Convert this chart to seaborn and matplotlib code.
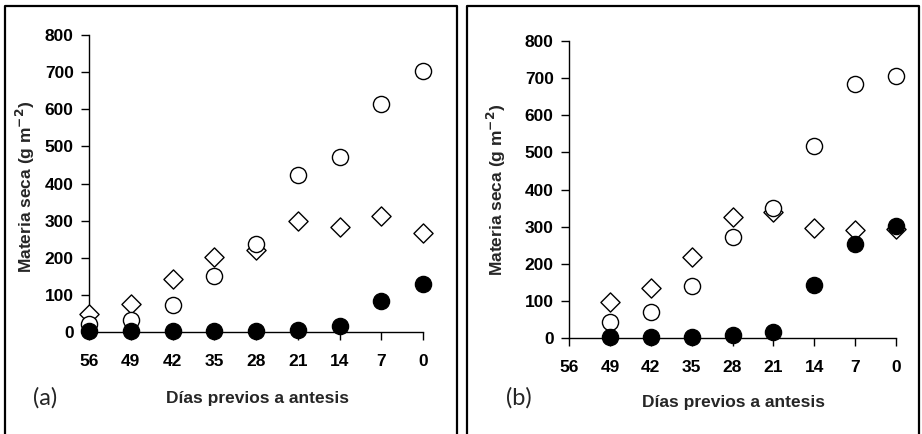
import matplotlib
matplotlib.use("Agg")
import matplotlib.pyplot as plt
import numpy as np
import pandas as pd
import seaborn as sns

sns.set_theme(style="ticks")
plt.rcParams['font.family'] = ['Liberation Sans', 'DejaVu Sans']

# Days before anthesis
dias = [56, 49, 42, 35, 28, 21, 14, 7, 0]
tick_labels = ["56", "49", "42", "35", "28", "21", "14", "7", "0"]

# Panel (a): dry matter, g m-2
a_circulo = [22, 33, 72, 152, 238, 423, 471, 615, 704]
a_rombo = [49, 75, 143, 203, 220, 300, 283, 313, 266]
a_lleno = [2, 2, 2, 2, 2, 6, 16, 84, 130]

# Panel (b): dry matter, g m-2 (no sampling at day 56)
dias_b = [49, 42, 35, 28, 21, 14, 7, 0]
b_circulo = [44, 70, 139, 271, 349, 517, 684, 705]
b_rombo = [96, 134, 219, 327, 339, 295, 291, 293]
b_lleno = [2, 2, 2, 8, 17, 142, 254, 301]

W, H = 922, 434
FS = 12.5
fig = plt.figure(figsize=(W / 100, H / 100), dpi=100)


def px_axes(left, right, y0, y800):
    return fig.add_axes([left / W, (H - y0) / H, (right - left) / W, (y0 - y800) / H])


def panel(ax, x, circ, rombo, lleno):
    df = pd.DataFrame({"dia": x, "circ": circ, "rombo": rombo, "lleno": lleno})
    kw = dict(ax=ax, linewidth=1.0, clip_on=False, zorder=3, legend=False)
    sns.scatterplot(data=df, x="dia", y="rombo", marker="D", s=95,
                    color="white", edgecolor="black", **kw)
    sns.scatterplot(data=df, x="dia", y="circ", marker="o", s=135,
                    color="white", edgecolor="black", **kw)
    sns.scatterplot(data=df, x="dia", y="lleno", marker="o", s=135,
                    color="black", edgecolor="black", **kw)
    ax.set_xlim(56, 0)
    ax.set_ylim(0, 800)
    ax.set_xticks(dias)
    ax.set_xticklabels(tick_labels)
    ax.set_yticks(range(0, 801, 100))
    for side in ("top", "right"):
        ax.spines[side].set_visible(False)
    for side in ("left", "bottom"):
        ax.spines[side].set_linewidth(1.0)
        ax.spines[side].set_color("black")
    ax.tick_params(axis="both", direction="out", length=6, width=1.0,
                   colors="black", labelsize=FS)
    ax.tick_params(axis="x", pad=10)
    ax.tick_params(axis="y", pad=5)
    for lab in ax.get_xticklabels() + ax.get_yticklabels():
        lab.set_fontweight("bold")
    ax.set_xlabel("")
    ax.set_ylabel("")
    ax.set_facecolor("none")


ax_a = px_axes(89, 423, 332, 35)
panel(ax_a, dias, a_circulo, a_rombo, a_lleno)
ax_b = px_axes(569, 896, 338, 41)
panel(ax_b, dias_b, b_circulo, b_rombo, b_lleno)

# Axis titles
ylab = "Materia seca (g m$^{\\mathbf{-2}}$)"
fig.text(25 / W, 1 - 187 / H, ylab, rotation=90, ha="center", va="center",
         fontsize=FS, fontweight="bold")
fig.text(496 / W, 1 - 190 / H, ylab, rotation=90, ha="center", va="center",
         fontsize=FS, fontweight="bold")
fig.text(257 / W, 1 - 398 / H, "Días previos a antesis", ha="center", va="center",
         fontsize=FS, fontweight="bold")
fig.text(733 / W, 1 - 403 / H, "Días previos a antesis", ha="center", va="center",
         fontsize=FS, fontweight="bold")

# Panel letters
fig.text(33 / W, 1 - 398 / H, "(a)", ha="left", va="center", fontsize=17,
         family=["Lato", "DejaVu Sans"])
fig.text(506 / W, 1 - 398 / H, "(b)", ha="left", va="center", fontsize=17,
         family=["Lato", "DejaVu Sans"])

# Panel frames (open at the bottom)
for x0, x1 in ((5, 457), (467, 919)):
    xs = np.array([x0, x0, x1, x1]) / W
    ys = 1 - np.array([H + 5, 6, 6, H + 5]) / H
    fig.add_artist(plt.Line2D(xs, ys, color="black", linewidth=1.6,
                              transform=fig.transFigure))

fig.savefig("out.png", dpi=100)
